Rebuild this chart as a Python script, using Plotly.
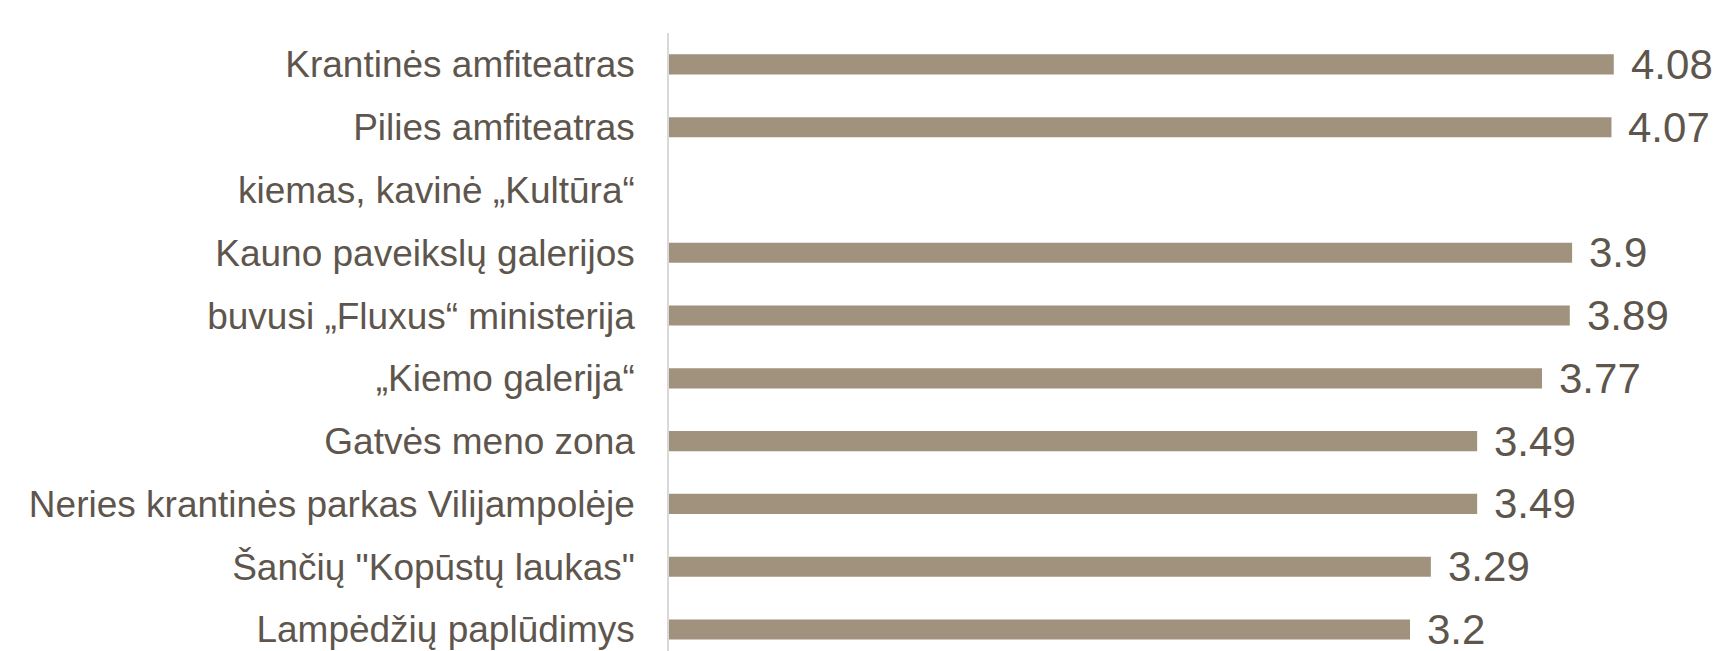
import plotly.graph_objects as go

categories = [
    "Krantinės amfiteatras",
    "Pilies amfiteatras",
    "kiemas, kavinė „Kultūra“",
    "Kauno paveikslų galerijos",
    "buvusi „Fluxus“ ministerija",
    "„Kiemo galerija“",
    "Gatvės meno zona",
    "Neries krantinės parkas Vilijampolėje",
    "Šančių \"Kopūstų laukas\"",
    "Lampėdžių paplūdimys",
]
values = [4.08, 4.07, None, 3.9, 3.89, 3.77, 3.49, 3.49, 3.29, 3.2]
value_labels = ["4.08", "4.07", "", "3.9", "3.89", "3.77", "3.49", "3.49", "3.29", "3.2"]

BAR = "#A1927E"
TXT = "#5E564D"
FONT = "Liberation Sans, Arial, sans-serif"

fig = go.Figure(
    go.Bar(
        y=categories,
        x=values,
        orientation="h",
        marker=dict(color=BAR, line=dict(width=0)),
        width=0.32,
        hoverinfo="skip",
    )
)

for c, v, t in zip(categories, values, value_labels):
    if v is None:
        continue
    fig.add_annotation(
        x=v, y=c, text=t, xanchor="left", yanchor="middle",
        xshift=15, showarrow=False,
        font=dict(family=FONT, size=42, color=TXT),
    )

fig.update_layout(
    width=1722, height=651,
    margin=dict(l=661, r=12, t=25, b=0),
    paper_bgcolor="white", plot_bgcolor="white",
    showlegend=False,
    xaxis=dict(range=[0, 4.53], visible=False, fixedrange=True),
    yaxis=dict(
        categoryorder="array", categoryarray=categories,
        range=[9.47, -0.5],
        showline=True, linecolor="#D9D9D9", linewidth=1.5,
        showgrid=False, zeroline=False, ticks="",
        ticklabelstandoff=25,
        tickfont=dict(family=FONT, size=37, color=TXT),
    ),
)

fig.write_html("out.html")
